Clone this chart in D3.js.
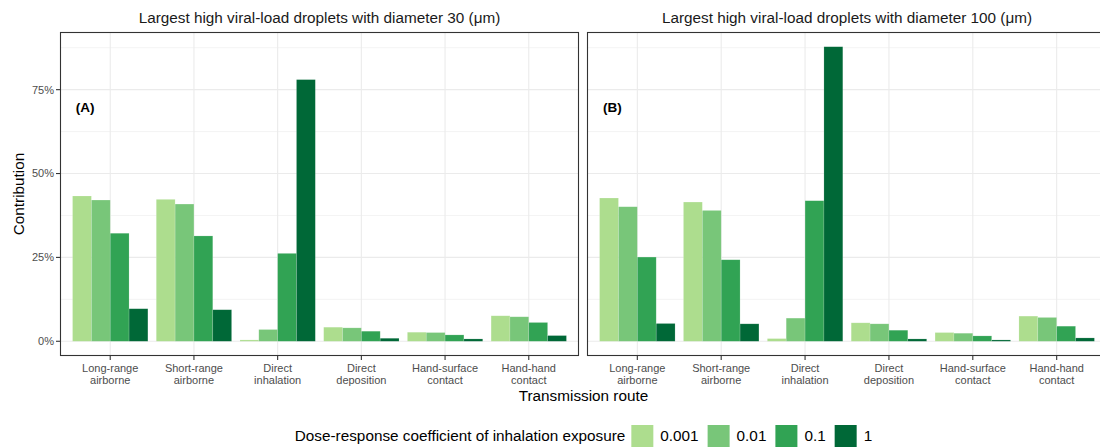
<!DOCTYPE html>
<html>
<head>
<meta charset="utf-8">
<script src="https://cdn.jsdelivr.net/npm/d3@7"></script>
<style>
  body { margin: 0; background: #fff; }
  svg { display: block; font-family: "Liberation Sans", Arial, sans-serif; }
</style>
</head>
<body>
<svg id="chart" width="1100" height="448"></svg>
<script>
// ---------------- data ----------------
const categories = ["Long-range airborne", "Short-range airborne", "Direct inhalation", "Direct deposition", "Hand-surface contact", "Hand-hand contact"];
const categoryLines = [["Long-range", "airborne"], ["Short-range", "airborne"], ["Direct", "inhalation"], ["Direct", "deposition"], ["Hand-surface", "contact"], ["Hand-hand", "contact"]];
const seriesNames = ["0.001", "0.01", "0.1", "1"];
const panelTitles = ["Largest high viral-load droplets with diameter 30 (\u03bcm)", "Largest high viral-load droplets with diameter 100 (\u03bcm)"];
const panelTags = ["(A)", "(B)"];
// values per category, ordered by series [0.001, 0.01, 0.1, 1]
const panelA = [
  [0.433, 0.421, 0.322, 0.097],
  [0.423, 0.409, 0.314, 0.094],
  [0.004, 0.035, 0.262, 0.780],
  [0.042, 0.040, 0.030, 0.009],
  [0.027, 0.026, 0.019, 0.007],
  [0.076, 0.073, 0.056, 0.017]
];
const panelB = [
  [0.427, 0.401, 0.251, 0.053],
  [0.415, 0.390, 0.243, 0.052],
  [0.008, 0.069, 0.419, 0.878],
  [0.055, 0.052, 0.033, 0.007],
  [0.026, 0.024, 0.016, 0.004],
  [0.075, 0.071, 0.045, 0.010]
];
const yTicks = [0, 0.25, 0.5, 0.75];
const yMinorTicks = [0.125, 0.375, 0.625, 0.875];
const colors = ["#addd8e", "#78c679", "#31a354", "#006837"];

// ---------------- layout ----------------
const svg = d3.select("#chart");
const pTop = 32, pBottom = 356;
const panels = [
  { x0: 60, x1: 579, data: panelA },
  { x0: 587, x1: 1107, data: panelB }
];
const allVals = panelA.flat().concat(panelB.flat());
const vmax = d3.max(allVals), vmin = 0;
const ex = (vmax - vmin) * 0.05;
const y = d3.scaleLinear().domain([vmin - ex, vmax + ex]).range([pBottom, pTop]);
const color = d3.scaleOrdinal().domain(seriesNames).range(colors);

panels.forEach((p, pi) => {
  const g = svg.append("g");
  const x = d3.scaleBand().domain(categories).range([p.x0, p.x1]).paddingInner(0.1).paddingOuter(0.15);
  const xs = d3.scaleBand().domain(seriesNames).range([0, x.bandwidth()]);
  const centers = categories.map(c => x(c) + x.bandwidth() / 2);

  g.append("rect").attr("x", p.x0).attr("y", pTop).attr("width", p.x1 - p.x0).attr("height", pBottom - pTop).attr("fill", "#fff");
  g.selectAll(".ymin").data(yMinorTicks).join("line")
    .attr("x1", p.x0).attr("x2", p.x1).attr("y1", d => y(d)).attr("y2", d => y(d))
    .attr("stroke", "#ebebeb").attr("stroke-width", 0.6);
  g.selectAll(".ymaj").data(yTicks).join("line")
    .attr("x1", p.x0).attr("x2", p.x1).attr("y1", d => y(d)).attr("y2", d => y(d))
    .attr("stroke", "#ebebeb").attr("stroke-width", 1.1);
  g.selectAll(".xmaj").data(centers).join("line")
    .attr("x1", d => d).attr("x2", d => d).attr("y1", pTop).attr("y2", pBottom)
    .attr("stroke", "#ebebeb").attr("stroke-width", 1.1);

  categories.forEach((c, ci) => {
    g.selectAll(null).data(p.data[ci].map((v, si) => ({ v, s: seriesNames[si] }))).join("rect")
      .attr("x", d => x(c) + xs(d.s))
      .attr("width", xs.bandwidth())
      .attr("y", d => y(Math.max(0, d.v)))
      .attr("height", d => Math.abs(y(d.v) - y(0)))
      .attr("fill", d => color(d.s))
      .attr("stroke", "rgba(255,255,255,0.25)")
      .attr("stroke-width", 0.6);
  });

  g.append("rect").attr("x", p.x0 + 0.5).attr("y", pTop + 0.5).attr("width", p.x1 - p.x0 - 1).attr("height", pBottom - pTop - 1)
    .attr("fill", "none").attr("stroke", "#333333").attr("stroke-width", 1.1);

  const xa = g.append("g");
  centers.forEach((cx, ci) => {
    xa.append("line").attr("x1", cx).attr("x2", cx).attr("y1", pBottom).attr("y2", pBottom + 4)
      .attr("stroke", "#333333").attr("stroke-width", 1.1);
    const t = xa.append("text").attr("x", cx).attr("y", pBottom + 16).attr("text-anchor", "middle")
      .attr("font-size", 11).attr("fill", "#4d4d4d");
    categoryLines[ci].forEach((ln, li) => {
      t.append("tspan").attr("x", cx).attr("dy", li === 0 ? 0 : 12).text(ln);
    });
  });

  g.append("text").attr("x", (p.x0 + p.x1) / 2).attr("y", 23).attr("text-anchor", "middle")
    .attr("font-size", 15.3).attr("fill", "#1a1a1a").text(panelTitles[pi]);

  g.append("text").attr("x", centers[0] - 25).attr("y", y(0.695)).attr("text-anchor", "middle")
    .attr("dominant-baseline", "middle")
    .attr("font-size", 13.5).attr("font-weight", "bold").attr("fill", "#000").text(panelTags[pi]);

  if (pi === 0) {
    const ya = g.append("g");
    yTicks.forEach(v => {
      ya.append("line").attr("x1", p.x0 - 4).attr("x2", p.x0).attr("y1", y(v)).attr("y2", y(v))
        .attr("stroke", "#333333").attr("stroke-width", 1.1);
      ya.append("text").attr("x", p.x0 - 6).attr("y", y(v)).attr("dy", "0.35em").attr("text-anchor", "end")
        .attr("font-size", 11).attr("fill", "#4d4d4d").text(d3.format(".0%")(v));
    });
  }
});

svg.append("text").attr("transform", `translate(23.5,${(pTop + pBottom) / 2}) rotate(-90)`)
  .attr("text-anchor", "middle").attr("font-size", 15.3).attr("fill", "#000").text("Contribution");
svg.append("text").attr("x", (panels[0].x0 + panels[1].x1) / 2).attr("y", 401).attr("text-anchor", "middle")
  .attr("font-size", 15.3).attr("fill", "#000").text("Transmission route");

const leg = svg.append("g");
const legY = 436;
const legTitle = leg.append("text").attr("x", 0).attr("y", legY).attr("dy", "0.35em")
  .attr("font-size", 15.3).attr("fill", "#000").text("Dose-response coefficient of inhalation exposure");
let lx = legTitle.node().getComputedTextLength() + 6;
seriesNames.forEach((s, i) => {
  leg.append("rect").attr("x", lx).attr("y", legY - 11).attr("width", 22).attr("height", 22)
    .attr("fill", color(s));
  const t = leg.append("text").attr("x", lx + 29).attr("y", legY).attr("dy", "0.35em")
    .attr("font-size", 15.3).attr("fill", "#000").text(s);
  lx += 29 + t.node().getComputedTextLength() + 9;
});
const legW = lx - 9;
leg.attr("transform", `translate(${(panels[0].x0 + panels[1].x1) / 2 - legW / 2},0)`);
</script>
</body>
</html>
